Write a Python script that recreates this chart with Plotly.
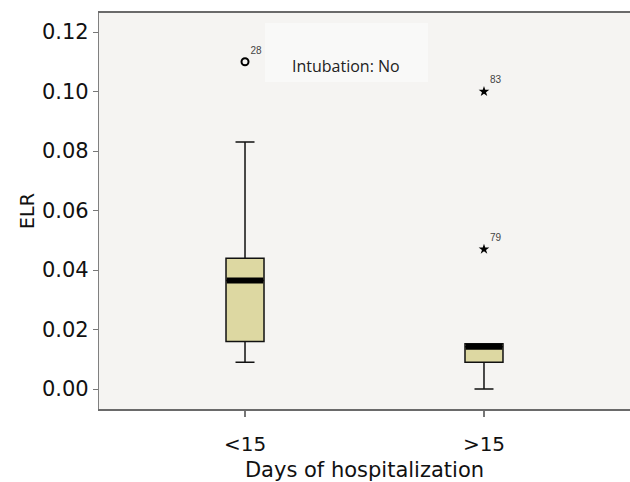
import plotly.graph_objects as go

# ---- data ----
categories = ["<15", ">15"]
cat_pos = [0, 1]
lower_fence = [0.009, 0.000]
q1 = [0.016, 0.009]
median = [0.0365, 0.0142]
q3 = [0.044, 0.0152]
upper_fence = [0.083, 0.0152]

# outliers: (category index, value, case id, kind)
outlier_cat = [0, 1, 1]
outlier_val = [0.110, 0.100, 0.047]
outlier_id = ["28", "83", "79"]
outlier_kind = ["circle", "star", "star"]

y_tickvals = [0.00, 0.02, 0.04, 0.06, 0.08, 0.10, 0.12]

BOX_W = 0.159
FILL = "#ddd8a2"
FONT = "DejaVu Sans"

fig = go.Figure()

for i, c in enumerate(categories):
    fig.add_trace(go.Box(
        x=[cat_pos[i]], q1=[q1[i]], median=[median[i]], q3=[q3[i]],
        lowerfence=[lower_fence[i]], upperfence=[upper_fence[i]],
        width=BOX_W, whiskerwidth=0.5, fillcolor=FILL,
        line=dict(color="#111111", width=1.5), boxpoints=False,
        showlegend=False, hoverinfo="skip"))

# thick median lines
for i, c in enumerate(categories):
    fig.add_trace(go.Scatter(
        x=[cat_pos[i] - BOX_W / 2 + 0.003, cat_pos[i] + BOX_W / 2 - 0.003],
        y=[median[i], median[i]], mode="lines",
        line=dict(color="black", width=6), showlegend=False, hoverinfo="skip"))

# outliers
for kind, sym, size, lw in [("circle", "circle-open", 7, 2), ("star", "star", 8, 0)]:
    xs = [cat_pos[outlier_cat[j]] for j in range(len(outlier_val)) if outlier_kind[j] == kind]
    ys = [outlier_val[j] for j in range(len(outlier_val)) if outlier_kind[j] == kind]
    ts = [outlier_id[j] for j in range(len(outlier_val)) if outlier_kind[j] == kind]
    fig.add_trace(go.Scatter(
        x=xs, y=ys, mode="markers+text", text=ts, textposition="top right",
        textfont=dict(family="Liberation Sans", size=10, color="#444444"),
        marker=dict(symbol=sym, size=size, color="black",
                    line=dict(color="black", width=lw)),
        showlegend=False, hoverinfo="skip"))

# legend-like label box
fig.add_shape(type="rect", xref="paper", yref="paper",
              x0=0.3126, x1=0.6196, y0=0.8258, y1=0.975,
              fillcolor="#f9f9f8", line=dict(width=0), layer="below")
fig.add_annotation(xref="paper", yref="paper", x=0.466, y=0.866,
                   yanchor="middle", xanchor="center",
                   text="Intubation: No", showarrow=False,
                   font=dict(family="Open Sans", size=16, color="#222222"))

fig.update_layout(
    width=630, height=482,
    margin=dict(l=99, r=0, t=13, b=73),
    paper_bgcolor="white", plot_bgcolor="#f5f4f2",
    font=dict(family=FONT, size=20, color="#111111"),
    showlegend=False,
)
fig.update_xaxes(
    range=[-0.611, 1.611], tickvals=cat_pos, ticktext=categories,
    ticks="outside", ticklen=6, tickcolor="#777777", tickwidth=1.5,
    showline=True, mirror=True, linecolor="#6a6a6a", linewidth=1.5,
    showgrid=False, zeroline=False, ticklabelstandoff=10,
    title=dict(text="Days of hospitalization", standoff=8,
               font=dict(family=FONT, size=21)),
)
fig.update_yaxes(
    range=[-0.0067, 0.1264], tickvals=y_tickvals, tickformat=".2f",
    ticks="outside", ticklen=5, tickcolor="#777777", tickwidth=1.2,
    showline=True, linecolor="#808080", linewidth=1.2,
    showgrid=False, zeroline=False, tickfont=dict(size=21),
    title=dict(text="ELR", standoff=2, font=dict(family=FONT, size=19)),
)

fig.write_html("out.html", config={"displayModeBar": False},
               post_script="document.body.style.margin='0';document.body.style.overflow='hidden';")
